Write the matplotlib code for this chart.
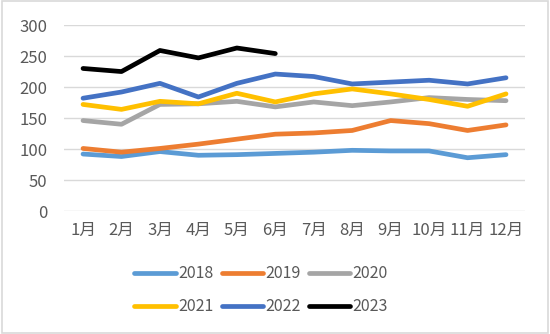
import matplotlib.pyplot as plt
from matplotlib.patches import Rectangle

plt.rcParams['font.family'] = ['Noto Sans CJK SC', 'DejaVu Sans']

months = ['1月', '2月', '3月', '4月', '5月', '6月', '7月', '8月', '9月', '10月', '11月', '12月']
years = ['2018', '2019', '2020', '2021', '2022', '2023']
colors = ['#5B9BD5', '#ED7D31', '#A5A5A5', '#FFC000', '#4472C4', '#000000']

v2018 = [92, 88, 96, 90, 91, 93, 95, 98, 97, 97, 86, 91]
v2019 = [101, 95, 101, 108, 116, 124, 126, 130, 146, 141, 130, 139]
v2020 = [146, 140, 172, 173, 177, 168, 176, 170, 176, 183, 180, 178]
v2021 = [172, 164, 177, 173, 190, 176, 189, 197, 189, 180, 169, 189]
v2022 = [182, 192, 206, 184, 206, 221, 217, 205, 208, 211, 205, 215]
v2023 = [230, 225, 259, 247, 263, 254]

series = [v2018, v2019, v2020, v2021, v2022, v2023]

fig = plt.figure(figsize=(5.5, 3.34), dpi=100)
ax = fig.add_axes([0.116, 0.368, 0.839, 0.557])

handles = []
for name, vals, c in zip(years, series, colors):
    h, = ax.plot(range(len(vals)), vals, color=c, lw=3.4, label=name,
                 solid_joinstyle='round', solid_capstyle='round')
    handles.append(h)

ax.set_xlim(-0.5, 11.5)
ax.set_ylim(0, 300)
ax.set_yticks(range(0, 301, 50))
ax.set_xticks(range(12))
ax.set_xticklabels(months)
ax.grid(axis='y', color='#D9D9D9', lw=1)
ax.set_axisbelow(True)
for s in ax.spines.values():
    s.set_visible(False)
ax.tick_params(length=0, labelsize=12, colors='#595959', pad=8)
ax.tick_params(axis='y', pad=12)

order = [0, 3, 1, 4, 2, 5]
leg = fig.legend([handles[i] for i in order], [years[i] for i in order],
                 ncol=3, loc='center', bbox_to_anchor=(0.475, 0.131),
                 frameon=False, fontsize=11.5, handlelength=2.6,
                 handletextpad=0.15, columnspacing=0.5, labelspacing=1.0)
for t in leg.get_texts():
    t.set_color('#595959')

fig.patches.append(Rectangle((0.003, 0.004), 0.994, 0.992, transform=fig.transFigure,
                             fill=False, edgecolor='#D9D9D9', lw=1.2))

fig.savefig('out.png', dpi=100, facecolor='white')
